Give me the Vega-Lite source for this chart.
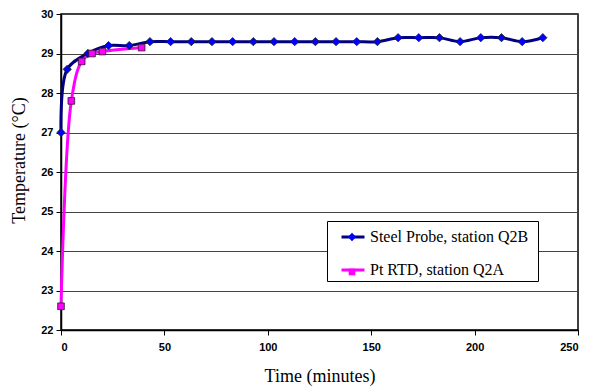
{
  "$schema": "https://vega.github.io/schema/vega-lite/v6.json",
  "autosize": "none",
  "width": 517,
  "height": 316,
  "padding": {"left": 61, "top": 14, "right": 12, "bottom": 58},
  "background": "white",
  "data": {
    "values": [
      {"t": 0, "temp": 27.0, "series": "Steel Probe, station Q2B"},
      {"t": 3, "temp": 28.6, "series": "Steel Probe, station Q2B"},
      {"t": 13, "temp": 29.0, "series": "Steel Probe, station Q2B"},
      {"t": 23, "temp": 29.2, "series": "Steel Probe, station Q2B"},
      {"t": 33, "temp": 29.2, "series": "Steel Probe, station Q2B"},
      {"t": 43, "temp": 29.3, "series": "Steel Probe, station Q2B"},
      {"t": 53, "temp": 29.3, "series": "Steel Probe, station Q2B"},
      {"t": 63, "temp": 29.3, "series": "Steel Probe, station Q2B"},
      {"t": 73, "temp": 29.3, "series": "Steel Probe, station Q2B"},
      {"t": 83, "temp": 29.3, "series": "Steel Probe, station Q2B"},
      {"t": 93, "temp": 29.3, "series": "Steel Probe, station Q2B"},
      {"t": 103, "temp": 29.3, "series": "Steel Probe, station Q2B"},
      {"t": 113, "temp": 29.3, "series": "Steel Probe, station Q2B"},
      {"t": 123, "temp": 29.3, "series": "Steel Probe, station Q2B"},
      {"t": 133, "temp": 29.3, "series": "Steel Probe, station Q2B"},
      {"t": 143, "temp": 29.3, "series": "Steel Probe, station Q2B"},
      {"t": 153, "temp": 29.3, "series": "Steel Probe, station Q2B"},
      {"t": 163, "temp": 29.4, "series": "Steel Probe, station Q2B"},
      {"t": 173, "temp": 29.4, "series": "Steel Probe, station Q2B"},
      {"t": 183, "temp": 29.4, "series": "Steel Probe, station Q2B"},
      {"t": 193, "temp": 29.3, "series": "Steel Probe, station Q2B"},
      {"t": 203, "temp": 29.4, "series": "Steel Probe, station Q2B"},
      {"t": 213, "temp": 29.4, "series": "Steel Probe, station Q2B"},
      {"t": 223, "temp": 29.3, "series": "Steel Probe, station Q2B"},
      {"t": 233, "temp": 29.4, "series": "Steel Probe, station Q2B"},
      {"t": 0, "temp": 22.6, "series": "Pt RTD, station Q2A"},
      {"t": 5, "temp": 27.8, "series": "Pt RTD, station Q2A"},
      {"t": 10, "temp": 28.8, "series": "Pt RTD, station Q2A"},
      {"t": 15, "temp": 29.0, "series": "Pt RTD, station Q2A"},
      {"t": 20, "temp": 29.05, "series": "Pt RTD, station Q2A"},
      {"t": 39, "temp": 29.15, "series": "Pt RTD, station Q2A"}
    ]
  },
  "encoding": {
    "x": {
      "field": "t", "type": "quantitative",
      "scale": {"domain": [0, 250], "nice": false},
      "axis": {"values": [0, 50, 100, 150, 200, 250], "title": "Time (minutes)", "grid": false, "titlePadding": 15}
    },
    "y": {
      "field": "temp", "type": "quantitative",
      "scale": {"domain": [22, 30], "nice": false, "zero": false},
      "axis": {"values": [22, 23, 24, 25, 26, 27, 28, 29, 30], "title": "Temperature (°C)", "grid": true, "titlePadding": 12, "titleY": 146}
    }
  },
  "layer": [
    {
      "mark": {"type": "line", "interpolate": "catmull-rom", "strokeWidth": 3},
      "encoding": {
        "stroke": {
          "field": "series", "type": "nominal",
          "scale": {"domain": ["Pt RTD, station Q2A", "Steel Probe, station Q2B"], "range": ["#FF00FF", "#000080"]},
          "legend": {
            "orient": "none", "legendX": 266, "legendY": 207, "title": "\u00a0",
            "titleOrient": "right", "titlePadding": 7, "titleFontSize": 1,
            "values": ["Steel Probe, station Q2B", "Pt RTD, station Q2A"],
            "symbolType": "stroke", "symbolSize": 529, "symbolStrokeWidth": 3, "symbolOffset": 10,
            "labelOffset": 4, "padding": 3, "rowPadding": 12,
            "strokeColor": "black", "fillColor": "white",
            "labelFont": "'Times New Roman', 'Liberation Serif', serif", "labelFontSize": 16, "labelColor": "black", "labelLimit": 300
          }
        }
      }
    },
    {
      "mark": {"type": "point", "filled": true, "size": 529, "stroke": "#202020", "strokeWidth": 0.8, "opacity": 1},
      "encoding": {
        "fill": {
          "field": "series", "type": "nominal",
          "scale": {"domain": ["Steel Probe, station Q2B", "Pt RTD, station Q2A"], "range": ["#0000FF", "#FF00FF"]},
          "legend": {
            "orient": "none", "legendX": 266, "legendY": 208, "title": null,
            "symbolSize": 529, "symbolStrokeColor": "#202020", "symbolStrokeWidth": 0.8, "symbolOffset": 10,
            "labelOffset": 4, "padding": 3, "rowPadding": 15, "labelExpr": "''",
            "labelFont": "'Times New Roman', 'Liberation Serif', serif", "labelFontSize": 15
          }
        },
        "shape": {
          "field": "series", "type": "nominal",
          "scale": {"domain": ["Steel Probe, station Q2B", "Pt RTD, station Q2A"], "range": ["M0,-0.36L0.36,0L0,0.36L-0.36,0Z", "M-0.29,-0.29H0.29V0.29H-0.29Z"]},
          "legend": {
            "orient": "none", "legendX": 266, "legendY": 208, "title": null,
            "symbolSize": 529, "symbolStrokeColor": "#202020", "symbolStrokeWidth": 0.8, "symbolOffset": 10,
            "labelOffset": 4, "padding": 3, "rowPadding": 15, "labelExpr": "''",
            "labelFont": "'Times New Roman', 'Liberation Serif', serif", "labelFontSize": 15
          }
        }
      }
    }
  ],
  "config": {
    "view": {"stroke": "black", "strokeWidth": 1.5},
    "axis": {
      "labelFont": "Arial, 'Liberation Sans', sans-serif", "labelFontWeight": "bold", "labelFontSize": 11, "labelColor": "black",
      "titleFont": "'Times New Roman', 'Liberation Serif', serif", "titleFontWeight": "normal", "titleFontSize": 18, "titleColor": "black",
      "domainColor": "black", "domainWidth": 1.5, "tickColor": "black", "tickSize": 5,
      "gridColor": "#444444", "gridWidth": 1, "labelPadding": 3
    },
    "axisX": {"labelPadding": 6}
  }
}
